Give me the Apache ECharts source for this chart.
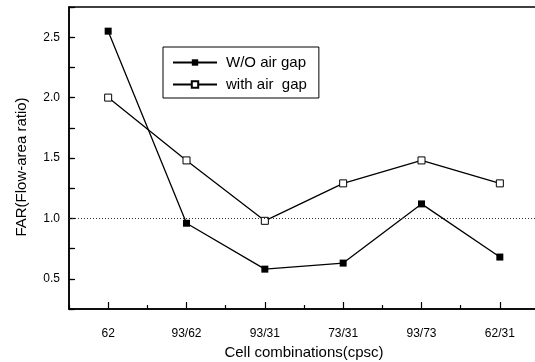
<!DOCTYPE html>
<html>
<head>
<meta charset="utf-8">
<script src="https://cdn.jsdelivr.net/npm/echarts@6/dist/echarts.min.js"></script>
<style>
html, body { margin: 0; background: #fff; }
#main { width: 535px; height: 362px; }
</style>
</head>
<body>
<div id="main"></div>
<script>
// data
var categories = ['62', '93/62', '93/31', '73/31', '93/73', '62/31'];
var woAirGap = [2.55, 0.96, 0.58, 0.63, 1.12, 0.68];
var withAirGap = [2.00, 1.48, 0.98, 1.29, 1.48, 1.29];
var refLine = 1.0;
var yMin = 0.25, yMax = 2.75;

var font = 'Liberation Sans, Arial, sans-serif';

var option = {
    backgroundColor: '#fff',
    animation: false,
    grid: {
        left: 69, top: 7, width: 470, height: 302,
        outerBoundsMode: 'none',
        containLabel: false,
        show: true, borderColor: '#000', borderWidth: 1.5
    },
    legend: {
        orient: 'vertical',
        left: 163, top: 47,
        borderColor: '#000', borderWidth: 1,
        padding: [8, 12, 6, 9],
        itemWidth: 44, itemHeight: 8, itemGap: 7,
        textStyle: { fontFamily: font, fontSize: 15, color: '#000', padding: [0, 0, 0, 4] },
        data: ['W/O air gap', 'with air  gap']
    },
    xAxis: [
        {
            // minor ticks between categories + axis name
            type: 'category',
            data: categories,
            boundaryGap: true,
            axisLine: { onZero: false, lineStyle: { color: '#000', width: 1.5 } },
            axisTick: { show: true, inside: true, length: 4, interval: 0, alignWithLabel: false, lineStyle: { color: '#000', width: 1.2 } },
            axisLabel: { show: false },
            splitLine: { show: false },
            name: 'Cell combinations(cpsc)',
            nameLocation: 'middle',
            nameGap: 36,
            nameTextStyle: { fontFamily: font, fontSize: 15, color: '#000' }
        },
        {
            // major ticks and labels at the categories
            type: 'category',
            data: categories,
            position: 'bottom',
            offset: 0,
            boundaryGap: true,
            axisLine: { show: false, onZero: false },
            axisTick: { show: true, inside: true, length: 7, interval: 0, alignWithLabel: true, lineStyle: { color: '#000', width: 1.2 } },
            axisLabel: { margin: 19, interval: 0, fontFamily: font, fontSize: 12, color: '#000' },
            splitLine: { show: false }
        }
    ],
    yAxis: [
        {
            type: 'value',
            min: yMin, max: yMax, interval: 0.25,
            axisLine: { show: true, lineStyle: { color: '#000', width: 1.5 } },
            axisTick: { show: true, inside: true, length: 4, lineStyle: { color: '#000', width: 1.2 } },
            axisLabel: { show: false },
            splitLine: { show: false },
            name: 'FAR(Flow-area ratio)',
            nameLocation: 'middle',
            nameGap: 40,
            nameTextStyle: { fontFamily: font, fontSize: 15, color: '#000', padding: [0, 18, 0, 0] }
        },
        {
            type: 'value',
            position: 'left',
            offset: 0,
            min: yMin, max: yMax, interval: 0.25,
            axisLine: { show: false },
            axisTick: {
                show: true, inside: true, length: 6, lineStyle: { color: '#000', width: 1.2 },
                interval: function (i, v) { return Math.round(v * 4) % 2 === 0; }
            },
            axisLabel: {
                margin: 9, fontFamily: font, fontSize: 12, color: '#000',
                formatter: function (v) {
                    return Math.round(v * 4) % 2 === 0 ? v.toFixed(1) : '';
                }
            },
            splitLine: { show: false }
        }
    ],
    series: [
        {
            name: 'W/O air gap',
            type: 'line',
            data: woAirGap,
            symbol: 'rect',
            symbolSize: 7,
            itemStyle: { color: '#000' },
            lineStyle: { color: '#000', width: 1.3 },
            markLine: {
                silent: true,
                symbol: 'none',
                label: { show: false },
                lineStyle: { color: '#333', width: 1, type: [1, 2] },
                data: [{ yAxis: refLine }]
            }
        },
        {
            name: 'with air  gap',
            type: 'line',
            data: withAirGap,
            symbol: 'rect',
            symbolSize: 7,
            itemStyle: { color: '#fff', borderColor: '#000', borderWidth: 1 },
            lineStyle: { color: '#000', width: 1.3 }
        }
    ]
};

var chart = echarts.init(document.getElementById('main'), null, { renderer: 'canvas' });
chart.setOption(option);
</script>
</body>
</html>
